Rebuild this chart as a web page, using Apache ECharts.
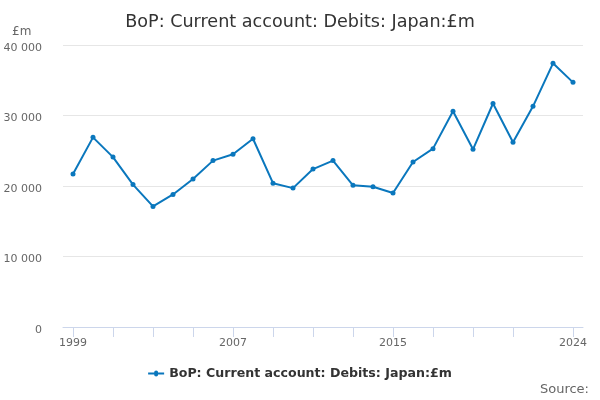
<!DOCTYPE html>
<html><head><meta charset="utf-8">
<script src="https://cdn.jsdelivr.net/npm/echarts@6/dist/echarts.min.js"></script>
<style>html,body{margin:0;padding:0;background:#fff}#c{width:600px;height:400px}</style>
</head><body><div id="c"></div>
<script>
const years = [1999,2000,2001,2002,2003,2004,2005,2006,2007,2008,2009,2010,2011,2012,2013,2014,2015,2016,2017,2018,2019,2020,2021,2022,2023,2024];
const values = [21700,26900,24100,20200,17100,18800,21000,23600,24500,26700,20400,19700,22400,23600,20100,19900,19000,23400,25300,30600,25200,31700,26200,31300,37400,34700];
const tickYears = [1999,2001,2003,2005,2007,2009,2011,2013,2015,2017,2019,2021,2024];
const labelYears = [1999,2007,2015,2024];
const yTicks = [0,10000,20000,30000,40000];
const seriesName = 'BoP: Current account: Debits: Japan:£m';
const font = 'DejaVu Sans';
const chart = echarts.init(document.getElementById('c'), null, {renderer:'canvas'});
chart.setOption({
  animation:false,
  title:{text:seriesName,left:'center',top:8,textStyle:{fontFamily:font,fontSize:17.6,fontWeight:'normal',color:'#333333'}},
  graphic:[
    {type:'text',left:12,top:26,style:{text:'£m',fontFamily:font,fontSize:12,fill:'#666666'}},
    {type:'text',right:11,top:383,style:{text:'Source:',fontFamily:font,fontSize:13,fill:'#666666'}}
  ],
  legend:{bottom:15,left:'center',itemWidth:16,itemHeight:8,icon:'path://M0,3L6,3A2,2 0 1 1 10,3L16,3L16,5L10,5A2,2 0 1 1 6,5L0,5Z',textStyle:{fontFamily:font,fontSize:12.6,fontWeight:'bold',color:'#333333'},data:[seriesName]},
  grid:{left:63,right:17,top:45,bottom:73},
  xAxis:{type:'value',min:1998.5,max:2024.5,
    axisLine:{show:true,lineStyle:{color:'#ccd6eb',width:1}},
    axisTick:{show:true,length:10,lineStyle:{color:'#ccd6eb'},customValues:tickYears},
    axisLabel:{customValues:labelYears,fontFamily:font,fontSize:11,color:'#666666',margin:11,formatter:v=>String(v)},
    splitLine:{show:false}},
  yAxis:{type:'value',min:0,max:40000,interval:10000,
    axisLine:{show:false},axisTick:{show:false},
    axisLabel:{fontFamily:font,fontSize:11,color:'#666666',margin:21,
      formatter:v=>'{v|'+(v===0?'0':(v/1000)+' 000')+'}',
      rich:{v:{fontFamily:font,fontSize:11,color:'#666666',padding:[6,0,0,0]}}},
    splitLine:{lineStyle:{color:'#e6e6e6',width:1}}},
  series:[{name:seriesName,type:'line',data:years.map((y,i)=>[y,values[i]]),
    symbol:'circle',symbolSize:5,showSymbol:true,
    lineStyle:{color:'#0a77bd',width:2},itemStyle:{color:'#0a77bd'}}]
});
</script></body></html>
